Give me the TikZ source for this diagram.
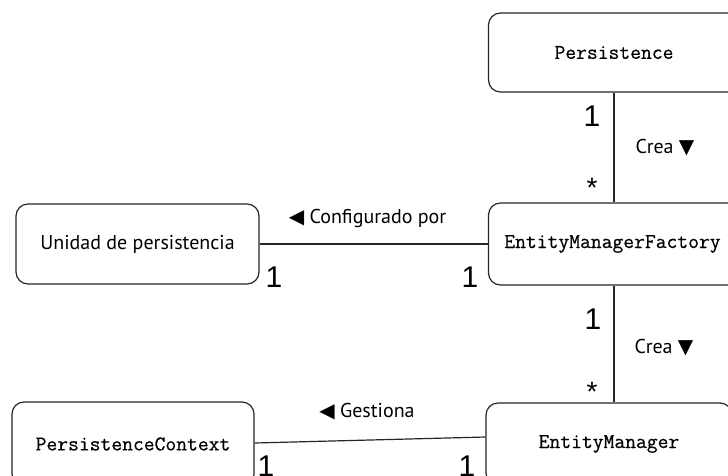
\documentclass[tikz,border=0pt]{standalone}
\usepackage{fontspec}
\setmainfont{PT Sans}
\newfontfamily\monof[FakeBold=0.5]{Latin Modern Mono}
\newfontfamily\numf{Liberation Sans}
\newfontfamily\symf{DejaVu Sans}
\begin{document}
\begin{tikzpicture}[x=1pt,y=-1pt,
  box/.style={draw=black!85,line width=1.2pt,rounded corners=12pt,inner sep=0pt},
  monotext/.style={font=\monof\fontsize{21}{24}\selectfont},
  conn/.style={draw=black!85,line width=1.2pt},
  lbl/.style={font=\fontsize{20}{24}\selectfont,inner sep=0pt,anchor=base},
  mult/.style={font=\numf\fontsize{30}{34}\selectfont,inner sep=0pt},
  star/.style={font=\numf\fontsize{28}{32}\selectfont,inner sep=0pt,anchor=north}]
\useasboundingbox (0,0) rectangle (728,475);
\clip (0,0) rectangle (728,475);
\fill[white] (0,0) rectangle (728,475);
% boxes
\node[box,monotext,minimum width=251pt,minimum height=79pt] (pers) at (614,52.5) {Persistence};
\node[box,monotext,minimum width=251pt,minimum height=82pt] (emf) at (614,244) {\hspace*{-3pt}EntityManagerFactory};
\node[box,minimum width=243pt,minimum height=80pt,font=\fontsize{20}{24}\selectfont] (unidad) at (137.5,244) {Unidad de persistencia};
\node[box,monotext,minimum width=246pt,minimum height=82pt] (em) at (609,444) {EntityManager};
\node[box,monotext,minimum width=242pt,minimum height=84pt] (pc) at (133,444) {PersistenceContext};
% connectors
\draw[conn] (pers.south) -- (emf.north);
\draw[conn] (emf.south) -- (emf.south |- em.north);
\draw[conn] (unidad.east) -- (emf.west);
\draw[conn] ([yshift=1pt]pc.east) -- ([yshift=7pt]em.west);
% labels
\node[lbl] (crea1) at (665,153) {Crea {\symf ▼}};
\node[lbl] (crea2) at (664,353) {Crea {\symf ▼}};
\node[lbl] (conf) at (367.5,223) {{\symf ◀} Configurado por};
\node[lbl] (gest) at (367,417) {{\symf ◀} Gestiona};
% multiplicities
\node[mult] (m1) at (592,116) {1};
\node[star] (s1) at (592,178) {*};
\node[mult] (m2) at (593,319) {1};
\node[star] (s2) at (592,382) {*};
\node[mult] (m3) at (274,277) {1};
\node[mult] (m4) at (470,277) {1};
\node[mult] (m5) at (266,466) {1};
\node[mult] (m6) at (467,466) {1};
\end{tikzpicture}
\end{document}
